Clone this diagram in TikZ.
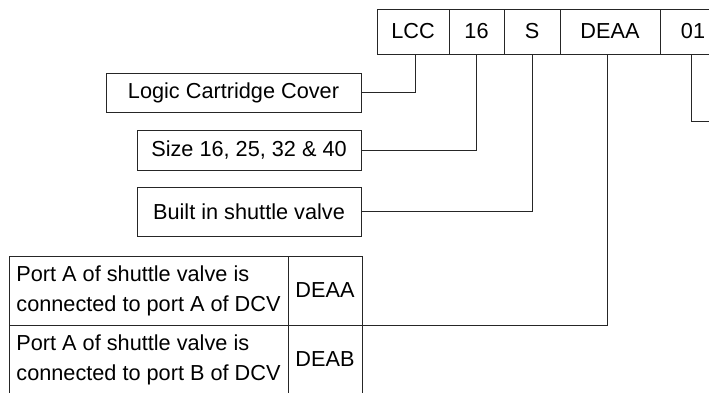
\documentclass[tikz,border=0pt]{standalone}
\usepackage{fontspec}
\setmainfont{Liberation Sans}
\begin{document}
\begin{tikzpicture}[x=1pt,y=-1pt,
  box/.style={draw=black!85, line width=1pt, inner sep=0pt, font=\fontsize{21.7}{30}\selectfont},
  conn/.style={draw=black!85, line width=1pt}]
\clip (0,0) rectangle (709,392);
\fill[white] (0,0) rectangle (709,392);
% code boxes
\node[box, minimum width=72pt, minimum height=45pt] (lcc) at (413,31.5) {LCC};
\node[box, minimum width=55pt, minimum height=45pt] (c16) at (476.5,31.5) {16};
\node[box, minimum width=56pt, minimum height=45pt] (cs) at (532,31.5) {S};
\node[box, minimum width=100pt, minimum height=45pt] (cdeaa) at (610,31.5) {DEAA};
\node[box, minimum width=66pt, minimum height=45pt] (c01) at (693,31.5) {01};
% description boxes
\node[box, minimum width=255pt, minimum height=39pt] (logic) at (233.5,92.5) {Logic Cartridge Cover};
\node[box, minimum width=224pt, minimum height=40pt] (size) at (249,150) {Size 16, 25, 32 \& 40};
\node[box, minimum width=224pt, minimum height=49pt] (built) at (249,211.5) {Built in shuttle valve};
% table
\node[box, minimum width=279pt, minimum height=69pt, align=left] (t1) at (148.5,290.5) {Port A of shuttle valve is\\connected to port A of DCV};
\node[box, minimum width=74pt, minimum height=69pt] (k1) at (325,290.5) {DEAA};
\node[box, minimum width=279pt, minimum height=69pt, align=left] (t2) at (148.5,359.5) {Port A of shuttle valve is\\connected to port B of DCV};
\node[box, minimum width=74pt, minimum height=69pt] (k2) at (325,359.5) {DEAB};
\coordinate (oend) at (715,121);
% connectors
\draw[conn] ([xshift=2pt]lcc.south) |- (logic.east);
\draw[conn] (c16.south) |- (size.east);
\draw[conn] (cs.south) |- (built.east);
\draw[conn] ([xshift=-3pt]cdeaa.south) |- (k1.south east);
\draw[conn] ([xshift=-2pt]c01.south) |- (oend);
\end{tikzpicture}
\end{document}
